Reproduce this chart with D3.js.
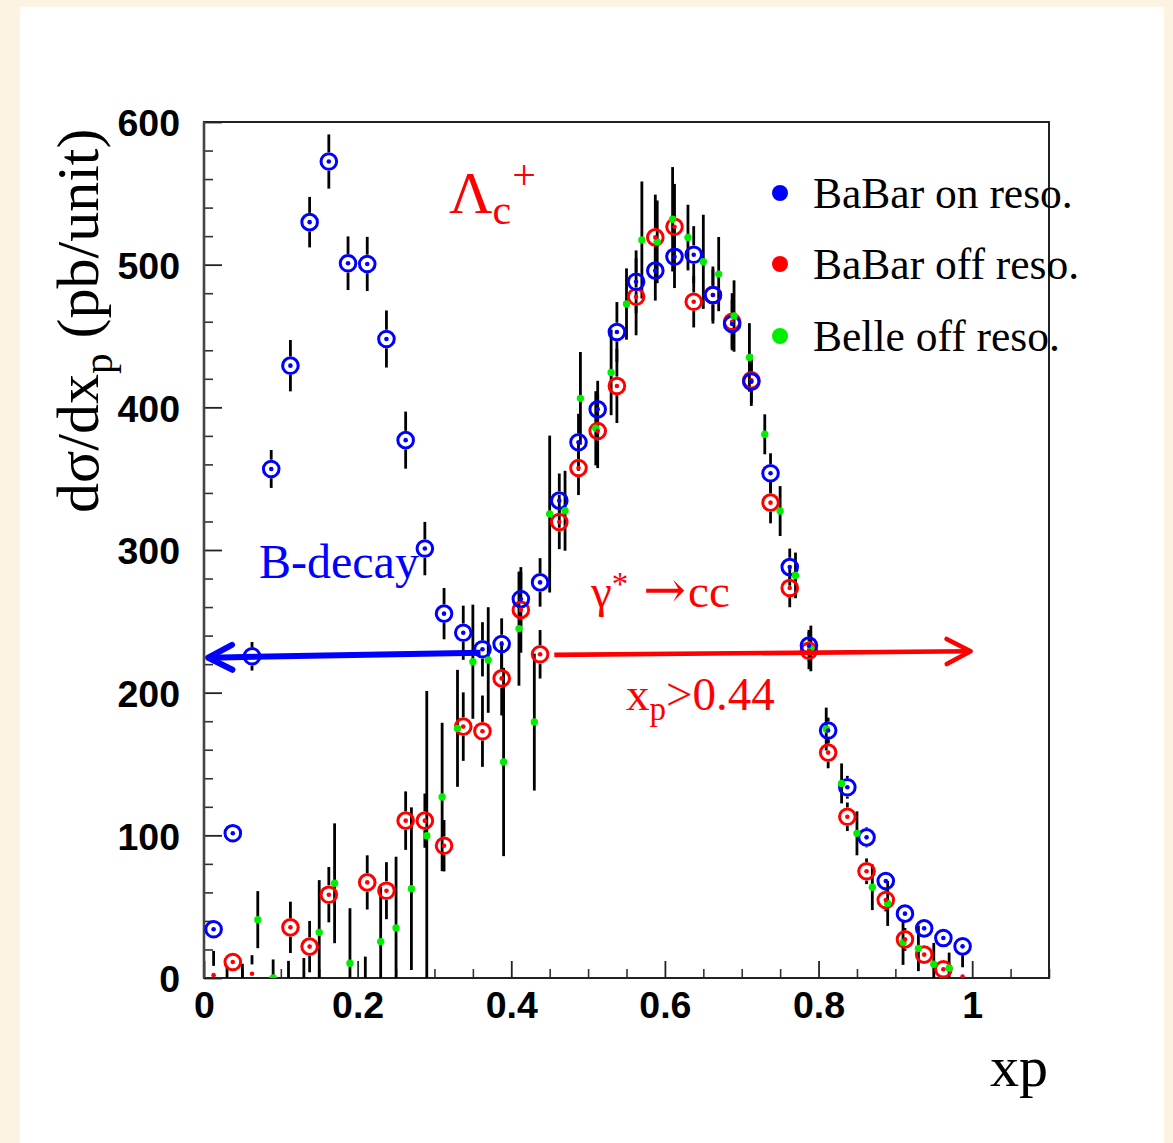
<!DOCTYPE html>
<html>
<head>
<meta charset="utf-8">
<script src="https://cdn.jsdelivr.net/npm/d3@7"></script>
<style>
  html, body { margin: 0; padding: 0; background: #fdf3e3; }
  svg { display: block; }
</style>
</head>
<body>
<svg id="chart" width="1173" height="1143"></svg>
<script>
// ---- Lambda_c+ scaled-momentum spectra, dsigma/dxp (pb/unit) ----

// BaBar bins (width 0.025)
const xBaBar = [0.0125, 0.0375, 0.0625, 0.0875, 0.1125, 0.1375, 0.1625, 0.1875, 0.2125, 0.2375,
                0.2625, 0.2875, 0.3125, 0.3375, 0.3625, 0.3875, 0.4125, 0.4375, 0.4625, 0.4875,
                0.5125, 0.5375, 0.5625, 0.5875, 0.6125, 0.6375, 0.6625, 0.6875, 0.7125, 0.7375,
                0.7625, 0.7875, 0.8125, 0.8375, 0.8625, 0.8875, 0.9125, 0.9375, 0.9625, 0.9875];

// BaBar on resonance
const babarOn = [34.2, 101.5, 225.5, 356.8, 429.2, 529.8, 572.3, 501, 500.5, 447.9,
                 377, 301, 255.4, 242, 230.4, 234.1, 265.6, 277.3, 334.6, 375.5,
                 398.6, 452.8, 488, 495.8, 505.6, 507, 478.7, 458.4, 418, 353.8,
                 288, 233, 173.5, 133.7, 98.6, 68, 45.1, 34.8, 28, 22.2];
const babarOnErr = [4, 5, 10, 13.3, 18, 17.7, 19, 18.8, 19, 20,
                    20, 18.7, 18, 19, 19, 18, 19, 17, 19, 20,
                    20, 21, 22, 21, 22, 20, 18, 17, 15, 14,
                    13, 11, 9, 8, 7, 6, 5, 5, 4, 4];

// BaBar off resonance (null: bin not shown)
const babarOff = [2, 11.2, 3, null, 35.5, 22, 58.4, null, 67, 61.2,
                  110.3, 110.3, 92.7, 176.2, 173, 210, 258, 226.9, 319.6, 357.5,
                  383.4, 415, 477.5, 519.1, 526.6, 474, 478.7, 460, 419, 333.2,
                  273.4, 229.4, 158, 113, 74.8, 54.7, 27.1, 16.4, 6.1, 1];
const babarOffErr = [17, 5, 13, 0, 18, 18, 19.4, 0, 19, 20,
                     20.5, 19, 18, 24, 25, 26, 30, 17, 19, 19,
                     26, 26, 27, 30, 30, 18, 20, 20, 18, 14.5,
                     13.5, 13, 11, 10, 9, 8, 8, 6, 5, 15];

// Belle bins (width 0.02)
const xBelle = [0.01, 0.03, 0.05, 0.07, 0.09, 0.11, 0.13, 0.15, 0.17, 0.19,
                0.21, 0.23, 0.25, 0.27, 0.29, 0.31, 0.33, 0.35, 0.37, 0.39,
                0.41, 0.43, 0.45, 0.47, 0.49, 0.51, 0.53, 0.55, 0.57, 0.59,
                0.61, 0.63, 0.65, 0.67, 0.69, 0.71, 0.73, 0.75, 0.77, 0.79,
                0.81, 0.83, 0.85, 0.87, 0.89, 0.91, 0.93, 0.95, 0.97, 0.99];

// Belle off resonance
const belleOff = [null, -4, -3, 40.9, 0, -3, -3, 32, 66.4, 10.3,
                  -3, 25.5, 35, 62.6, 99.7, 126.9, 175, 221.7, 222.9, 151.4,
                  244.9, 179.4, 325.2, 327.5, 406.3, 385.3, 424.5, 472.4, 517.3, 516,
                  531.8, 519, 502, 493.4, 464, 435, 381.1, 327.3, 282.2, 231,
                  174.5, 136.4, 101.4, 63.6, 52.3, 25, 20.8, 9.6, 6.8, null];
const belleOffErr = [0, 12, 13, 20, 13, 15, 17, 36.6, 42, 38.6,
                     18, 38.5, 50, 57, 101.5, 52, 41, 40, 37, 66,
                     40, 48, 55, 28, 32.5, 26, 30, 25, 41, 29,
                     36.6, 23, 33, 26, 25, 24, 14, 17.5, 16, 16,
                     15, 14, 15.4, 16, 15.8, 15.8, 16, 15, 11, 0];

// Axis ticks and labels
const xMajorTicks = [0, 0.2, 0.4, 0.6, 0.8, 1];
const xTickLabels = ["0", "0.2", "0.4", "0.6", "0.8", "1"];
const yMajorTicks = [0, 100, 200, 300, 400, 500, 600];
const yTickLabels = ["0", "100", "200", "300", "400", "500", "600"];

// Legend entries
const legendLabels = ["BaBar on reso.", "BaBar off reso.", "Belle off reso."];
const colBlue = "#0000ff", colRed = "#ff0000", colGreen = "#00ee00";
const legendColors = [colBlue, colRed, colGreen];

// ---- layout ----
const svg = d3.select("#chart");
svg.append("rect").attr("x", 0).attr("y", 0).attr("width", 1173).attr("height", 1143).attr("fill", "#fdf3e3");
svg.append("rect").attr("x", 20).attr("y", 7).attr("width", 1144).attr("height", 1136).attr("fill", "#ffffff");

const x = d3.scaleLinear().domain([0, 1.1]).range([204, 1049]);
const y = d3.scaleLinear().domain([0, 600]).range([978, 122]);

const serif = "'Liberation Serif', 'Times New Roman', Times, serif";
const sans = "'Liberation Sans', Arial, Helvetica, sans-serif";

svg.append("defs").append("clipPath").attr("id", "plotClip")
  .append("rect").attr("x", 204).attr("y", 122).attr("width", 845).attr("height", 856);

// ---- axes ----
const yMinor = d3.range(0, 601, 20).filter(v => v % 100 !== 0);
svg.append("g").attr("transform", "translate(204,0)")
  .call(d3.axisLeft(y).tickValues(yMinor).tickSize(-9).tickFormat(""))
  .call(g => g.select(".domain").remove())
  .call(g => g.selectAll("line").attr("stroke", "#333").attr("stroke-width", 1.6));

svg.append("g").attr("transform", "translate(204,0)")
  .call(d3.axisLeft(y).tickValues(yMajorTicks).tickSize(-18).tickPadding(24)
        .tickFormat((d, i) => yTickLabels[i]))
  .call(g => g.select(".domain").remove())
  .call(g => g.selectAll("line").attr("stroke", "#222").attr("stroke-width", 1.8))
  .call(g => g.selectAll("text").attr("font-family", sans).attr("font-weight", "bold")
        .attr("font-size", 37.5).attr("fill", "#000").attr("dy", "0.37em"));

const xMinor = d3.range(0.05, 1.1001, 0.05).filter(v => Math.abs(v / 0.2 - Math.round(v / 0.2)) > 1e-6);
svg.append("g").attr("transform", "translate(0,978)")
  .call(d3.axisBottom(x).tickValues(xMinor).tickSize(-9).tickFormat(""))
  .call(g => g.select(".domain").remove())
  .call(g => g.selectAll("line").attr("stroke", "#333").attr("stroke-width", 1.6));

svg.append("g").attr("transform", "translate(0,978)")
  .call(d3.axisBottom(x).tickValues(xMajorTicks).tickSize(-17).tickPadding(10)
        .tickFormat((d, i) => xTickLabels[i]))
  .call(g => g.select(".domain").remove())
  .call(g => g.selectAll("line").attr("stroke", "#222").attr("stroke-width", 1.8))
  .call(g => g.selectAll("text").attr("font-family", sans).attr("font-weight", "bold")
        .attr("font-size", 37.5).attr("fill", "#000").attr("dy", null).attr("y", 40));

// frame
svg.append("rect").attr("x", 204).attr("y", 122).attr("width", 845).attr("height", 856)
  .attr("fill", "none").attr("stroke", "#222").attr("stroke-width", 2);
svg.append("line").attr("x1", 204).attr("x2", 204).attr("y1", 122).attr("y2", 978)
  .attr("stroke", "#444").attr("stroke-width", 2.6);

// ---- data marks ----
const plot = svg.append("g").attr("clip-path", "url(#plotClip)");
const R = 7.8;       // open-circle radius
const GAP = 9.3;     // error-bar gap around open circles

function errorSegments(xs, vals, errs, gap) {
  const segs = [];
  xs.forEach((xv, i) => {
    const v = vals[i];
    if (v == null || !errs[i]) return;
    const cx = x(xv), cy = y(v), top = y(v + errs[i]), bot = y(v - errs[i]);
    if (cy - gap > top) segs.push({ x: cx, y1: top, y2: cy - gap });
    if (bot > cy + gap) segs.push({ x: cx, y1: cy + gap, y2: bot });
  });
  return segs;
}

const allSegs = []
  .concat(errorSegments(xBelle, belleOff, belleOffErr, 0))
  .concat(errorSegments(xBaBar, babarOff, babarOffErr, GAP))
  .concat(errorSegments(xBaBar, babarOn, babarOnErr, GAP));

plot.append("g").selectAll("line").data(allSegs).join("line")
  .attr("x1", d => d.x).attr("x2", d => d.x)
  .attr("y1", d => d.y1).attr("y2", d => d.y2)
  .attr("stroke", "#000").attr("stroke-width", 2.8);

function pts(xs, vals) {
  return xs.map((xv, i) => ({ x: xv, v: vals[i] })).filter(d => d.v != null);
}

const redPts = pts(xBaBar, babarOff);
const bluePts = pts(xBaBar, babarOn);
const greenPts = pts(xBelle, belleOff);

// open circles (off-resonance circles only where the yield is visible)
plot.append("g").selectAll("circle").data(redPts.filter(d => d.v >= 5)).join("circle")
  .attr("cx", d => x(d.x)).attr("cy", d => y(d.v)).attr("r", R)
  .attr("fill", "none").attr("stroke", colRed).attr("stroke-width", 3);
plot.append("g").selectAll("circle").data(bluePts).join("circle")
  .attr("cx", d => x(d.x)).attr("cy", d => y(d.v)).attr("r", R)
  .attr("fill", "none").attr("stroke", colBlue).attr("stroke-width", 3);

// Belle points
plot.append("g").selectAll("circle").data(greenPts).join("circle")
  .attr("cx", d => x(d.x)).attr("cy", d => y(d.v)).attr("r", 3.7)
  .attr("fill", colGreen);

// centre dots
plot.append("g").selectAll("circle").data(redPts).join("circle")
  .attr("cx", d => x(d.x)).attr("cy", d => y(d.v)).attr("r", 2.3).attr("fill", colRed);
plot.append("g").selectAll("circle").data(bluePts).join("circle")
  .attr("cx", d => x(d.x)).attr("cy", d => y(d.v)).attr("r", 2.3).attr("fill", colBlue);

// ---- annotations ----
function arrow(from, to, color, width) {
  const x1 = x(from[0]), y1 = y(from[1]), x2 = x(to[0]), y2 = y(to[1]);
  const len = Math.hypot(x2 - x1, y2 - y1);
  const ux = (x2 - x1) / len, uy = (y2 - y1) / len;
  const back = 24, half = 12.5;
  const g = svg.append("g").attr("stroke", color).attr("fill", "none")
    .attr("stroke-width", width).attr("stroke-linecap", "round").attr("stroke-linejoin", "round");
  g.append("line").attr("x1", x1).attr("y1", y1).attr("x2", x2 - ux * 2).attr("y2", y2 - uy * 2)
    .attr("stroke-linecap", "butt");
  const bx = x2 - ux * back, by = y2 - uy * back;
  g.append("polyline").attr("points", [
    [bx - uy * half, by + ux * half], [x2, y2], [bx + uy * half, by - ux * half]
  ].map(p => p.join(",")).join(" "));
}
arrow([0.360, 228.0], [0.0055, 224.5], colBlue, 6);
arrow([0.456, 226.5], [0.998, 229.0], colRed, 4.6);

// Lambda_c^+
const lam = svg.append("text").attr("x", 449).attr("y", 213).attr("fill", colRed)
  .attr("font-family", serif).attr("font-size", 60);
lam.append("tspan").text("\u039B");
lam.append("tspan").attr("font-size", 42).attr("dy", 11).text("c");
lam.append("tspan").attr("font-size", 42).attr("dy", -35).attr("dx", 1).text("+");

// B-decay
svg.append("text").attr("x", 259).attr("y", 578).attr("fill", colBlue)
  .attr("font-family", serif).attr("font-size", 48).text("B-decay");

// gamma* -> cc
const gam = svg.append("text").attr("x", 591).attr("y", 607).attr("fill", colRed)
  .attr("font-family", serif).attr("font-size", 47);
gam.append("tspan").text("\u03B3");
gam.append("tspan").attr("font-size", 33).attr("dy", -12).text("*");
gam.append("tspan").attr("dy", 12).attr("dx", 15).attr("font-family", "'DejaVu Serif', serif")
  .attr("font-size", 51).text("\u2192");
gam.append("tspan").attr("dx", 2).text("cc");

// xp > 0.44
const xp = svg.append("text").attr("x", 626).attr("y", 710).attr("fill", colRed)
  .attr("font-family", serif).attr("font-size", 47);
xp.append("tspan").text("x");
xp.append("tspan").attr("font-size", 33).attr("dy", 10).text("p");
xp.append("tspan").attr("dy", -10).text(">0.44");

// legend
const legRows = [193, 264, 336];
const leg = svg.append("g");
leg.selectAll("circle").data(legendLabels).join("circle")
  .attr("cx", 780).attr("cy", (d, i) => legRows[i]).attr("r", 8)
  .attr("fill", (d, i) => legendColors[i]);
leg.selectAll("text").data(legendLabels).join("text")
  .attr("x", 813).attr("y", (d, i) => legRows[i] + 15)
  .attr("font-family", serif).attr("font-size", 43.5).attr("fill", "#000")
  .text(d => d);

// axis titles
const yt = svg.append("text").attr("transform", "translate(98,513) rotate(-90)")
  .attr("font-family", serif).attr("font-size", 60).attr("fill", "#000");
yt.append("tspan").text("d\u03C3/dx");
yt.append("tspan").attr("font-size", 41).attr("dy", 14).text("p");
yt.append("tspan").attr("dy", -14).text(" (pb/unit)");

svg.append("text").attr("x", 1048).attr("y", 1086).attr("text-anchor", "end")
  .attr("font-family", serif).attr("font-size", 58).attr("fill", "#000").text("xp");
</script>
</body>
</html>
